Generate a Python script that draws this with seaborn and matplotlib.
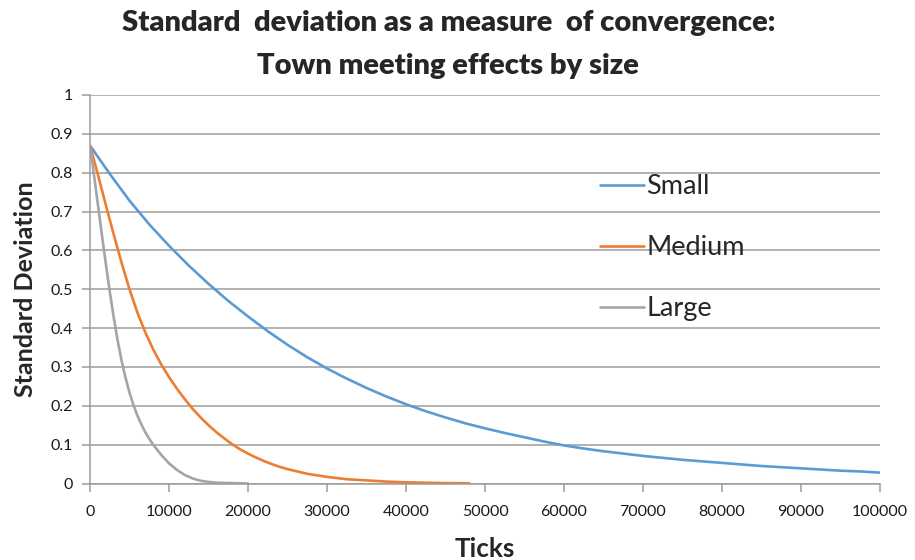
import matplotlib
matplotlib.use("Agg")
import matplotlib.pyplot as plt
import seaborn as sns
import pandas as pd

# Standard deviation of opinions over simulation ticks, by town size
small_ticks = [0, 2500, 5000, 7500, 10000, 12500, 15000, 17500, 20000, 22500,
               25000, 27500, 30000, 32500, 35000, 37500, 40000, 42500, 45000,
               47500, 50000, 52500, 55000, 57500, 60000, 62500, 65000, 67500,
               70000, 72500, 75000, 77500, 80000, 82500, 85000, 87500, 90000,
               92500, 95000, 97500, 100000]
small_sd = [0.87, 0.797, 0.728, 0.667, 0.612, 0.561, 0.514, 0.47, 0.43, 0.392,
            0.357, 0.325, 0.296, 0.27, 0.246, 0.224, 0.204, 0.186, 0.17,
            0.155, 0.142, 0.13, 0.119, 0.108, 0.098, 0.09, 0.083, 0.077,
            0.071, 0.066, 0.061, 0.057, 0.053, 0.049, 0.045, 0.042, 0.039,
            0.036, 0.033, 0.031, 0.028]

medium_ticks = [0, 1000, 2000, 3000, 4000, 5000, 6000, 7000, 8000, 9000,
                10000, 11000, 12000, 13000, 14000, 15000, 16000, 17000, 18000,
                19000, 20000, 21000, 22000, 23000, 24000, 25000, 27500, 30000,
                32500, 35000, 37500, 40000, 42500, 45000, 48000]
medium_sd = [0.87, 0.795, 0.717, 0.641, 0.568, 0.5, 0.44, 0.389, 0.345, 0.307,
             0.274, 0.244, 0.217, 0.192, 0.17, 0.15, 0.132, 0.116, 0.101,
             0.088, 0.077, 0.067, 0.058, 0.05, 0.043, 0.037, 0.025, 0.017,
             0.011, 0.008, 0.005, 0.003, 0.002, 0.001, 0.0005]

large_ticks = [0, 500, 1000, 1500, 2000, 2500, 3000, 3500, 4000, 4500, 5000,
               5500, 6000, 6500, 7000, 7500, 8000, 9000, 10000, 11000, 12000,
               13000, 14000, 15000, 16000, 18000, 20000]
large_sd = [0.87, 0.795, 0.718, 0.641, 0.566, 0.494, 0.428, 0.368, 0.316,
            0.272, 0.234, 0.202, 0.175, 0.152, 0.132, 0.115, 0.1, 0.074,
            0.052, 0.035, 0.022, 0.013, 0.007, 0.004, 0.002, 0.001, 0.0]

sizes = ["Small", "Medium", "Large"]
colors = {"Small": "#5B9BD5", "Medium": "#ED7D31", "Large": "#A5A5A5"}

frames = []
for name, t, s in [("Small", small_ticks, small_sd),
                   ("Medium", medium_ticks, medium_sd),
                   ("Large", large_ticks, large_sd)]:
    frames.append(pd.DataFrame({"Ticks": t, "SD": s, "Size": name}))
df = pd.concat(frames, ignore_index=True)

sns.set_theme(style="white")
plt.rcParams["font.family"] = ["Lato", "DejaVu Sans"]

fig = plt.figure(figsize=(9.15, 5.6), dpi=100)
ax = fig.add_axes([90 / 915, 1 - 483.5 / 560, 790 / 915, 388.5 / 560])

sns.lineplot(data=df, x="Ticks", y="SD", hue="Size", hue_order=sizes,
             palette=colors, estimator=None, sort=False, linewidth=1.9,
             legend=False, ax=ax)

grid_c = "#9c9c9c"
ax.set_xlim(0, 100000)
ax.set_ylim(0, 1)
ax.set_xticks(range(0, 100001, 10000))
ax.set_yticks([i / 10 for i in range(11)])
ax.set_yticklabels(["0"] + [f"{i / 10:g}" for i in range(1, 11)])
ax.yaxis.grid(True, color=grid_c, linewidth=1.1)
ax.set_axisbelow(True)
for side in ["top", "right"]:
    ax.spines[side].set_visible(False)
for side in ["left", "bottom"]:
    ax.spines[side].set_color(grid_c)
    ax.spines[side].set_linewidth(1.1)
ax.tick_params(axis="both", which="major", length=6, width=1.1,
               color=grid_c, labelsize=11.5, labelcolor="#1a1a1a",
               direction="out", left=True, bottom=True)
ax.tick_params(axis="x", pad=9.5)
ax.tick_params(axis="y", pad=6)

ax.set_xlabel("Ticks", fontsize=18.8, fontweight="bold", labelpad=13)
ax.set_ylabel("Standard Deviation", fontsize=18, fontweight="bold",
              labelpad=10)

fig.suptitle("Standard  deviation as a measure  of convergence:\nTown meeting effects by size",
             x=0.49, y=0.982, fontsize=21, fontweight="heavy", linespacing=1.8)

handles = ax.get_lines()[:3]
ax.legend(handles, sizes, loc="upper left",
          bbox_to_anchor=(600 / 915, 1 - 174 / 560),
          bbox_transform=fig.transFigure, frameon=False, fontsize=19.5,
          handlelength=1.63, handletextpad=0.08, labelspacing=1.33,
          borderpad=0, borderaxespad=0)

fig.savefig("out.png", dpi=100)
